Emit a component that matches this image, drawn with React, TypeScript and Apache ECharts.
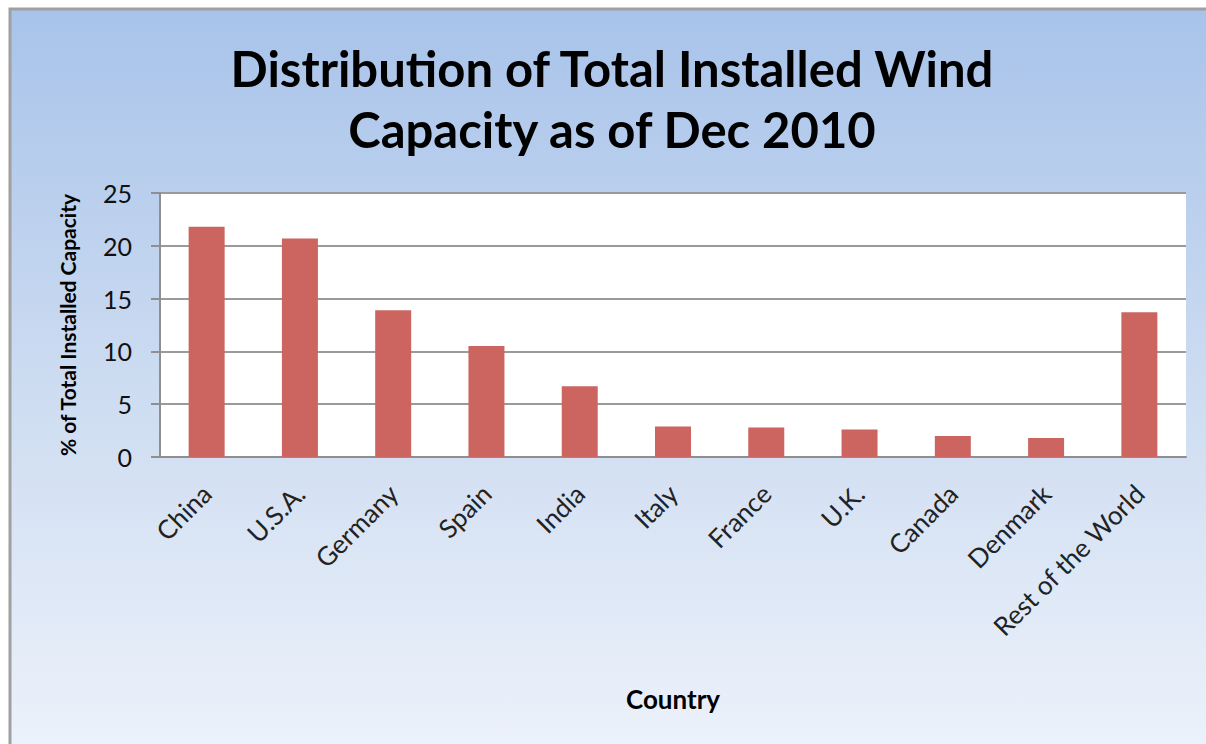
import React, { useEffect, useRef } from "react";
import * as echarts from "echarts";

const categories = ["China", "U.S.A.", "Germany", "Spain", "India", "Italy", "France", "U.K.", "Canada", "Denmark", "Rest of the World"];
const shares = [21.8, 20.7, 13.9, 10.5, 6.7, 2.9, 2.8, 2.6, 2.0, 1.8, 13.7];
const yTicks = [0, 5, 10, 15, 20, 25];

export default function App() {
  const ref = useRef<HTMLDivElement>(null);
  useEffect(() => {
    document.body.style.margin = "0";
    const chart = echarts.init(ref.current!, null, { renderer: "svg" });
    const font = "Lato, 'Open Sans', sans-serif";
    chart.setOption({
      animation: false,
      backgroundColor: "#ffffff",
      graphic: [
        {
          type: "rect",
          z: -10,
          silent: true,
          shape: { x: 10, y: 9, width: 1220, height: 760 },
          style: {
            fill: new echarts.graphic.LinearGradient(0, 0, 0, 1, [
              { offset: 0, color: "#a8c3ea" },
              { offset: 0.5, color: "#cddcf1" },
              { offset: 1, color: "#eef3fb" },
            ]),
            stroke: "#a0a0a0",
            lineWidth: 3,
          },
        },
        {
          type: "text",
          x: 612,
          y: 37,
          style: {
            text: "Distribution of Total Installed Wind\nCapacity as of Dec 2010",
            font: `bold 49px ${font}`,
            fill: "#000",
            textAlign: "center",
            textVerticalAlign: "top",
            lineHeight: 61,
          },
        },
      ],
      grid: { left: 160, right: 20, top: 193, bottom: 287, containLabel: false, backgroundColor: "#ffffff", show: true, borderWidth: 0 },
      xAxis: {
        type: "category",
        data: categories,
        name: "Country",
        nameLocation: "middle",
        nameGap: 229,
        nameTextStyle: { fontFamily: font, fontWeight: "bold", fontSize: 26, color: "#000" },
        axisLine: { lineStyle: { color: "#8f8f8f", width: 2 } },
        axisTick: { show: false },
        axisLabel: { rotate: 45, fontFamily: font, fontSize: 26, color: "#222", margin: 32, interval: 0 },
      },
      yAxis: {
        type: "value",
        min: 0,
        max: 25,
        interval: 5,
        name: "% of Total Installed Capacity",
        nameLocation: "middle",
        nameGap: 82,
        nameTextStyle: { fontFamily: font, fontWeight: "bold", fontSize: 21, color: "#000", padding: [0, 0, 0, 0] },
        axisLine: { show: true, lineStyle: { color: "#8f8f8f", width: 2 } },
        axisTick: { show: true, length: 9, lineStyle: { color: "#8f8f8f", width: 2 } },
        axisLabel: {
          fontFamily: font,
          fontSize: 25,
          color: "#111",
          margin: 28,
          formatter: (v: number) => (yTicks.includes(v) ? String(v) : ""),
        },
        splitLine: { lineStyle: { color: "#9a9a9a", width: 2 } },
      },
      series: [
        {
          type: "bar",
          data: shares,
          barWidth: 36,
          itemStyle: { color: "#cc6560" },
        },
      ],
    });
    return () => chart.dispose();
  }, []);
  return <div ref={ref} style={{ width: 1206, height: 744 }} />;
}
